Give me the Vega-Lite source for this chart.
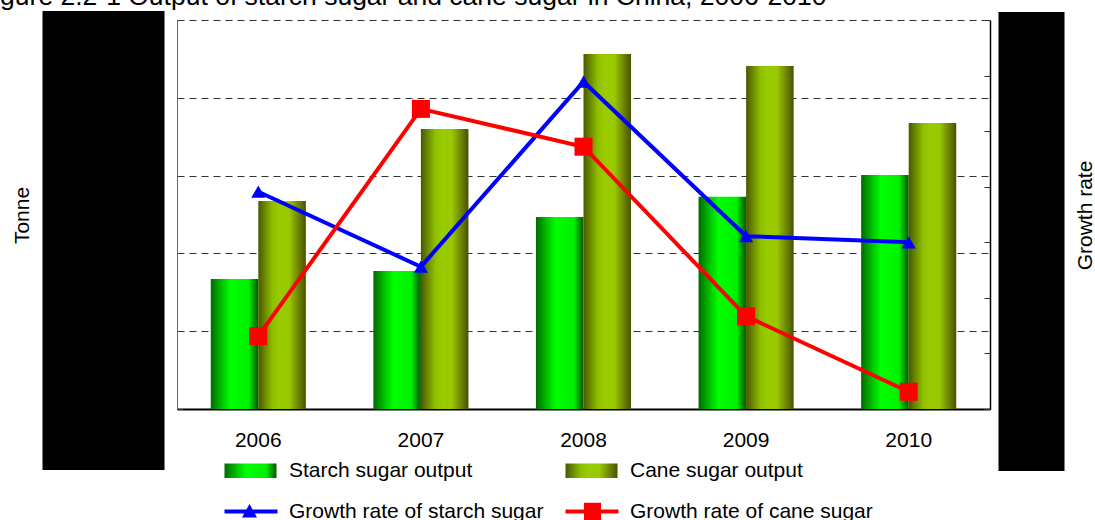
{
  "$schema": "https://vega.github.io/schema/vega-lite/v6.json",
  "width": 813,
  "height": 389,
  "autosize": {"type": "none"},
  "padding": {"left": 177, "top": 20, "right": 105, "bottom": 111},
  "background": "white",
  "title": {
    "text": "Figure 2.2-1 Output of starch sugar and cane sugar in China, 2006-2010",
    "anchor": "start",
    "frame": "group",
    "dx": -199,
    "fontSize": 26.5,
    "fontWeight": "normal",
    "font": "Liberation Sans",
    "color": "black",
    "baseline": "alphabetic",
    "offset": -21
  },
  "config": {
    "font": "Liberation Sans",
    "view": {"stroke": null}
  },
  "datasets": {
    "output": [
      {"year": "2006", "series": "Starch sugar output", "tonnes": 5010000},
      {"year": "2006", "series": "Cane sugar output", "tonnes": 8020000},
      {"year": "2007", "series": "Starch sugar output", "tonnes": 5320000},
      {"year": "2007", "series": "Cane sugar output", "tonnes": 10800000},
      {"year": "2008", "series": "Starch sugar output", "tonnes": 7400000},
      {"year": "2008", "series": "Cane sugar output", "tonnes": 13690000},
      {"year": "2009", "series": "Starch sugar output", "tonnes": 8180000},
      {"year": "2009", "series": "Cane sugar output", "tonnes": 13230000},
      {"year": "2010", "series": "Starch sugar output", "tonnes": 9020000},
      {"year": "2010", "series": "Cane sugar output", "tonnes": 11030000}
    ],
    "growth": [
      {"year": "2006", "series": "Growth rate of starch sugar", "rate": 19.1},
      {"year": "2007", "series": "Growth rate of starch sugar", "rate": 5.6},
      {"year": "2008", "series": "Growth rate of starch sugar", "rate": 38.9},
      {"year": "2009", "series": "Growth rate of starch sugar", "rate": 11.1},
      {"year": "2010", "series": "Growth rate of starch sugar", "rate": 10.0},
      {"year": "2006", "series": "Growth rate of cane sugar", "rate": -6.9},
      {"year": "2007", "series": "Growth rate of cane sugar", "rate": 34.0},
      {"year": "2008", "series": "Growth rate of cane sugar", "rate": 27.2},
      {"year": "2009", "series": "Growth rate of cane sugar", "rate": -3.3},
      {"year": "2010", "series": "Growth rate of cane sugar", "rate": -16.9}
    ]
  },
  "layer": [
    {
      "data": {"name": "output"},
      "encoding": {
        "x": {
          "field": "year", "type": "ordinal",
          "scale": {"paddingInner": 0, "paddingOuter": 0},
          "axis": {
            "title": null, "labelAngle": 0, "ticks": false, "domain": true,
            "domainColor": "black", "domainWidth": 2, "labelFontSize": 21,
            "labelPadding": 20, "labelColor": "black", "labelFont": "Liberation Sans"
          }
        },
        "xOffset": {
          "field": "series", "type": "nominal",
          "scale": {"domain": ["Starch sugar output", "Cane sugar output"], "paddingInner": 0, "paddingOuter": 0.71}
        },
        "y": {
          "field": "tonnes", "type": "quantitative",
          "scale": {"domain": [0, 15000000], "nice": false},
          "axis": {
            "orient": "left",
            "title": "Tonne",
            "values": [0, 3000000, 6000000, 9000000, 12000000, 15000000, 6497430],
            "labels": false,
            "grid": true,
            "gridColor": "#333333",
            "gridDash": [7, 5],
            "gridWidth": 1,
            "gridOpacity": {"condition": {"test": "datum.value > 6400000 && datum.value < 6600000", "value": 0}, "value": 1},
            "tickSize": {"condition": {"test": "datum.value > 6400000 && datum.value < 6600000", "value": 135}, "value": -6},
            "tickWidth": {"condition": {"test": "datum.value > 6400000 && datum.value < 6600000", "value": 459}, "value": 1},
            "tickColor": {"condition": {"test": "datum.value > 6400000 && datum.value < 6600000", "value": "black"}, "value": "#333333"},
            "tickDash": {"condition": {"test": "datum.value > 6400000 && datum.value < 6600000", "value": [0, 13, 122, 1000]}, "value": []},
            "domainColor": "#666666",
            "titleFontSize": 21,
            "titleFont": "Liberation Sans",
            "titleFontWeight": "normal",
            "titleColor": "black",
            "titleAngle": -90,
            "titleBaseline": "alphabetic",
            "titleAlign": "center",
            "titleX": -149,
            "titleY": 195
          }
        }
      },
      "layer": [
        {
          "transform": [{"filter": "datum.series === 'Starch sugar output'"}],
          "mark": {
            "type": "bar",
            "fill": {"gradient": "linear", "x1": 0, "y1": 0, "x2": 1, "y2": 0, "stops": [
              {"offset": 0, "color": "#006a00"}, {"offset": 0.25, "color": "#00c800"}, {"offset": 0.42, "color": "#00ff00"},
              {"offset": 0.8, "color": "#00f000"}, {"offset": 0.95, "color": "#007800"}, {"offset": 1, "color": "#006000"}]}
          }
        },
        {
          "transform": [{"filter": "datum.series === 'Cane sugar output'"}],
          "mark": {
            "type": "bar",
            "fill": {"gradient": "linear", "x1": 0, "y1": 0, "x2": 1, "y2": 0, "stops": [
              {"offset": 0, "color": "#4a5800"}, {"offset": 0.3, "color": "#8fbf00"}, {"offset": 0.45, "color": "#99cc00"},
              {"offset": 0.65, "color": "#99c800"}, {"offset": 1, "color": "#4a5000"}]}
          }
        }
      ]
    },
    {
      "data": {"name": "growth"},
      "encoding": {
        "x": {"field": "year", "type": "ordinal"},
        "y": {
          "field": "rate", "type": "quantitative",
          "scale": {"domain": [-20, 50], "nice": false, "zero": false},
          "axis": {
            "orient": "right",
            "title": "Growth rate",
            "values": [-20, -10, 0, 10, 20, 30, 40, 50, 10.32],
            "labels": false,
            "grid": false,
            "domainColor": "black",
            "domainWidth": 1.5,
            "tickSize": {"condition": {"test": "datum.value > 10.2 && datum.value < 10.5", "value": 74}, "value": -6},
            "tickWidth": {"condition": {"test": "datum.value > 10.2 && datum.value < 10.5", "value": 459}, "value": 1},
            "tickColor": {"condition": {"test": "datum.value > 10.2 && datum.value < 10.5", "value": "black"}, "value": "#333333"},
            "tickDash": {"condition": {"test": "datum.value > 10.2 && datum.value < 10.5", "value": [0, 8, 66, 1000]}, "value": []},
            "titleFontSize": 21,
            "titleFont": "Liberation Sans",
            "titleFontWeight": "normal",
            "titleColor": "black",
            "titleAngle": -90,
            "titleBaseline": "alphabetic",
            "titleAlign": "center",
            "titleX": 101,
            "titleY": 195
          }
        }
      },
      "layer": [
        {
          "mark": {"type": "line", "strokeWidth": 4},
          "encoding": {
            "color": {
              "field": "series", "type": "nominal",
              "scale": {
                "domain": ["Starch sugar output", "Cane sugar output", "Growth rate of starch sugar", "Growth rate of cane sugar"],
                "range": [
                  {"expr": "{gradient: 'linear', x1: 0, y1: 0, x2: 1, y2: 0, stops: [{offset: 0, color: '#006a00'}, {offset: 0.25, color: '#00c800'}, {offset: 0.42, color: '#00ff00'}, {offset: 0.8, color: '#00f000'}, {offset: 0.95, color: '#007800'}, {offset: 1, color: '#006000'}]}"},
                  {"expr": "{gradient: 'linear', x1: 0, y1: 0, x2: 1, y2: 0, stops: [{offset: 0, color: '#4a5800'}, {offset: 0.3, color: '#8fbf00'}, {offset: 0.45, color: '#99cc00'}, {offset: 0.65, color: '#99c800'}, {offset: 1, color: '#4a5000'}]}"},
                  "#0000ff",
                  "#ff0000"
                ]
              },
              "legend": {
                "orient": "none",
                "direction": "horizontal",
                "legendX": 45,
                "legendY": 440,
                "columns": 2,
                "title": null,
                "labelFontSize": 21,
                "labelFont": "Liberation Sans",
                "labelColor": "black",
                "labelLimit": 400,
                "symbolSize": 256,
                "labelOffset": 46,
                "columnPadding": 19,
                "rowPadding": 19,
                "padding": 0,
                "encode": {
                  "symbols": {
                    "update": {
                      "shape": {"signal": "datum.value === 'Starch sugar output' || datum.value === 'Cane sugar output' ? 'M-1,-0.9H5.5V0.9H-1Z' : datum.value === 'Growth rate of starch sugar' ? 'M-1,-0.25H5.625V0.25H-1Z M2.125,-0.95L3.06,0.75L1.19,0.75Z' : 'M-1,-0.25H5.625V0.25H-1Z M1.31,-1.1H3.44V1.1H1.31Z'"},
                      "fill": {"scale": "color", "field": "value"},
                      "strokeWidth": {"value": 0},
                      "opacity": {"value": 1}
                    }
                  }
                }
              }
            }
          }
        },
        {
          "mark": {"type": "point", "filled": true, "opacity": 1},
          "encoding": {
            "color": {"field": "series", "type": "nominal", "legend": null},
            "shape": {"field": "series", "type": "nominal", "scale": {"domain": ["Growth rate of starch sugar", "Growth rate of cane sugar"], "range": ["triangle-up", "square"]}, "legend": null},
            "size": {"field": "series", "type": "nominal", "scale": {"domain": ["Growth rate of starch sugar", "Growth rate of cane sugar"], "range": [200, 324]}, "legend": null}
          }
        }
      ]
    }
  ],
  "resolve": {"scale": {"y": "independent"}}
}
